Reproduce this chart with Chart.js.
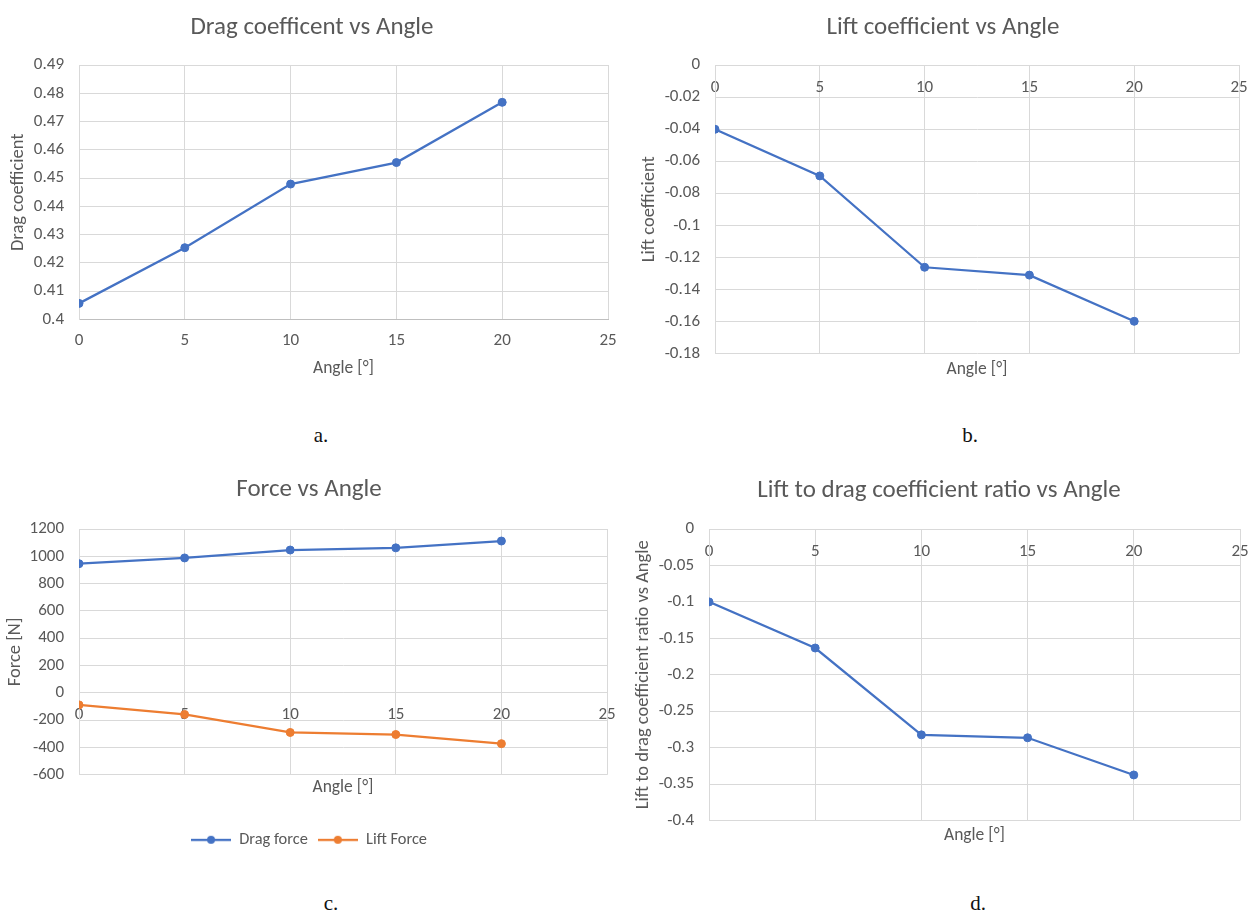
<!DOCTYPE html>
<html>
<head>
<meta charset="utf-8">
<script src="https://cdn.jsdelivr.net/npm/chart.js@4.4.1/dist/chart.umd.min.js"></script>
<style>
    body { margin: 0; background: #fff; }
    #page { position: relative; width: 1254px; height: 915px; overflow: hidden; background: #fff; }
    .panel { position: absolute; }
    .lbl { position: absolute; font-family: "Liberation Serif", "DejaVu Serif", serif; font-size: 21px; color: #111; transform: translate(-50%, -50%); }
</style>
</head>
<body>
<div id="page">
    <div class="panel" style="left:0px;top:0px;width:624px;height:379px"><canvas id="chartA"></canvas></div>
    <div class="panel" style="left:636px;top:0px;width:614px;height:380px"><canvas id="chartB"></canvas></div>
    <div class="panel" style="left:0px;top:450px;width:618px;height:408px"><canvas id="chartC"></canvas></div>
    <div class="panel" style="left:628px;top:450px;width:622px;height:396px"><canvas id="chartD"></canvas></div>
    <div class="lbl" style="left:321px;top:435px">a.</div>
    <div class="lbl" style="left:970px;top:435px">b.</div>
    <div class="lbl" style="left:331px;top:903px">c.</div>
    <div class="lbl" style="left:978px;top:903px">d.</div>
</div>
<script>
// datos
const angulos = [0, 5, 10, 15, 20];
const xTicks = [0, 5, 10, 15, 20, 25];

const dragCoef = [0.4057, 0.4254, 0.4479, 0.4555, 0.4768];
const liftCoef = [-0.0401, -0.0692, -0.1262, -0.1311, -0.1599];
const dragForce = [946, 988, 1046, 1062, 1112];
const liftForce = [-88, -158, -290, -305, -372];
const ratioLD = [-0.1000, -0.1633, -0.2825, -0.2865, -0.3375];

const yTicksA = [0.4, 0.41, 0.42, 0.43, 0.44, 0.45, 0.46, 0.47, 0.48, 0.49];
const yTicksB = [0, -0.02, -0.04, -0.06, -0.08, -0.1, -0.12, -0.14, -0.16, -0.18];
const yTicksC = [1200, 1000, 800, 600, 400, 200, 0, -200, -400, -600];
const yTicksD = [0, -0.05, -0.1, -0.15, -0.2, -0.25, -0.3, -0.35, -0.4];

const AZUL = '#4472C4';
const NARANJA = '#ED7D31';
const GRIS = '#595959';
const REJILLA = '#d9d9d9';
const FUENTE = 'Carlito, Lato, sans-serif';

function puntos(ys) {
    return angulos.map((a, i) => ({ x: a, y: ys[i] }));
}

function serie(label, ys, color) {
    return {
        label: label,
        data: puntos(ys),
        borderColor: color,
        backgroundColor: color,
        borderWidth: 2.25,
        pointRadius: 4,
        pointHoverRadius: 4,
        pointBorderWidth: 1,
        tension: 0
    };
}

function fmt(v) {
    return String(Number(v.toFixed(4)));
}

// icono de leyenda: linea con punto al medio, como en Excel
function iconoLeyenda(color) {
    const c = document.createElement('canvas');
    c.width = 40; c.height = 10;
    const g = c.getContext('2d');
    g.strokeStyle = color; g.lineWidth = 2.25;
    g.beginPath(); g.moveTo(0, 5); g.lineTo(40, 5); g.stroke();
    g.fillStyle = color;
    g.beginPath(); g.arc(20, 5, 4, 0, Math.PI * 2); g.fill();
    return c;
}

function crearGrafico(id, cfg) {
    const ctx = document.getElementById(id).getContext('2d');
    // las etiquetas del eje x se bajan con lineHeight, no con padding
    // (el padding tambien se suma al margen derecho)
    const xScale = {
        type: 'linear',
        min: 0, max: 25,
        position: cfg.xPos,
        afterBuildTicks: s => { s.ticks = xTicks.map(v => ({ value: v })); },
        afterFit: s => { s.height = cfg.xHeight; },
        grid: { color: REJILLA, lineWidth: 1, drawTicks: false },
        border: { color: cfg.xBorder || REJILLA, width: 1 },
        ticks: { color: GRIS, font: { family: FUENTE, size: 17, lineHeight: cfg.xLabelDist * 2 / 17 }, padding: 0, callback: fmt, maxRotation: 0 },
        title: { display: false }
    };
    const yScale = {
        type: 'linear',
        min: cfg.yMin, max: cfg.yMax,
        afterBuildTicks: s => { s.ticks = cfg.yTicks.map(v => ({ value: v })); },
        afterFit: s => { s.width = cfg.yWidth; },
        grid: { color: REJILLA, lineWidth: 1, drawTicks: false },
        border: { color: REJILLA, width: 1 },
        ticks: { color: GRIS, font: { family: FUENTE, size: 17 }, padding: 15, callback: fmt },
        title: {
            display: true,
            text: cfg.yTitle,
            color: GRIS,
            font: { family: FUENTE, size: 18.5 },
            padding: { top: cfg.yTitlePad, bottom: 0 }
        }
    };
    // eje vacio a la derecha, solo reserva espacio para centrar el titulo
    const relleno = {
        type: 'linear',
        position: 'right',
        display: true,
        afterFit: s => { s.width = cfg.rightGap; },
        grid: { display: false },
        border: { display: false },
        ticks: { display: false }
    };

    return new Chart(ctx, {
        type: 'line',
        data: { datasets: cfg.datasets },
        options: {
            responsive: true,
            maintainAspectRatio: false,
            animation: false,
            layout: { padding: 0 },
            scales: { x: xScale, y: yScale, relleno: relleno },
            plugins: {
                title: {
                    display: true,
                    text: cfg.title,
                    color: GRIS,
                    font: { family: FUENTE, size: 25, weight: 'normal' },
                    padding: { top: cfg.titlePad[0], bottom: cfg.titlePad[1] }
                },
                subtitle: {
                    display: true,
                    text: 'Angle [°]',
                    position: 'bottom',
                    fullSize: false,
                    weight: 500,
                    color: GRIS,
                    font: { family: FUENTE, size: 17.5, weight: 'normal' },
                    padding: { top: cfg.subPad[0], bottom: cfg.subPad[1] }
                },
                legend: {
                    display: !!cfg.legend,
                    position: 'bottom',
                    labels: {
                        color: GRIS,
                        font: { family: FUENTE, size: 16.4 },
                        usePointStyle: true,
                        pointStyleWidth: 40,
                        padding: 10,
                        generateLabels: chart => {
                            const items = Chart.defaults.plugins.legend.labels.generateLabels(chart);
                            items.forEach(it => { it.pointStyle = iconoLeyenda(chart.data.datasets[it.datasetIndex].borderColor); });
                            return items;
                        }
                    }
                },
                tooltip: { enabled: false }
            }
        }
    });
}

crearGrafico('chartA', {
    title: 'Drag coefficent vs Angle',
    yTitle: 'Drag coefficient',
    datasets: [serie('Drag coefficient', dragCoef, AZUL)],
    yMin: 0.4, yMax: 0.49, yTicks: yTicksA,
    xPos: 'bottom', xHeight: 34, xLabelDist: 21, xBorder: '#bfbfbf',
    yWidth: 79, yTitlePad: 6.9, rightGap: 16,
    titlePad: [13, 22], subPad: [4.5, 0]
});

crearGrafico('chartB', {
    title: 'Lift coefficient vs Angle',
    yTitle: 'Lift coefficient',
    datasets: [serie('Lift coefficient', liftCoef, AZUL)],
    yMin: -0.18, yMax: 0, yTicks: yTicksB,
    xPos: { y: 0 }, xHeight: 0, xLabelDist: 23,
    yWidth: 79, yTitlePad: 1.9, rightGap: 11,
    titlePad: [13, 22], subPad: [5.5, 0]
});

crearGrafico('chartC', {
    title: 'Force vs Angle',
    yTitle: 'Force [N]',
    datasets: [serie('Drag force', dragForce, AZUL), serie('Lift Force', liftForce, NARANJA)],
    yMin: -600, yMax: 1200, yTicks: yTicksC,
    xPos: { y: 0 }, xHeight: 0, xLabelDist: 22.3,
    yWidth: 79, yTitlePad: 4.4, rightGap: 11,
    titlePad: [25, 24], subPad: [2.5, 23.3],
    legend: true
});

crearGrafico('chartD', {
    title: 'Lift to drag coefficient ratio vs Angle',
    yTitle: 'Lift to drag coefficient ratio vs Angle',
    datasets: [serie('Lift to drag coefficient ratio', ratioLD, AZUL)],
    yMin: -0.4, yMax: 0, yTicks: yTicksD,
    xPos: { y: 0 }, xHeight: 0, xLabelDist: 22.7,
    yWidth: 81, yTitlePad: 3.9, rightGap: 10,
    titlePad: [26, 23], subPad: [4.5, 0]
});
</script>
</body>
</html>
